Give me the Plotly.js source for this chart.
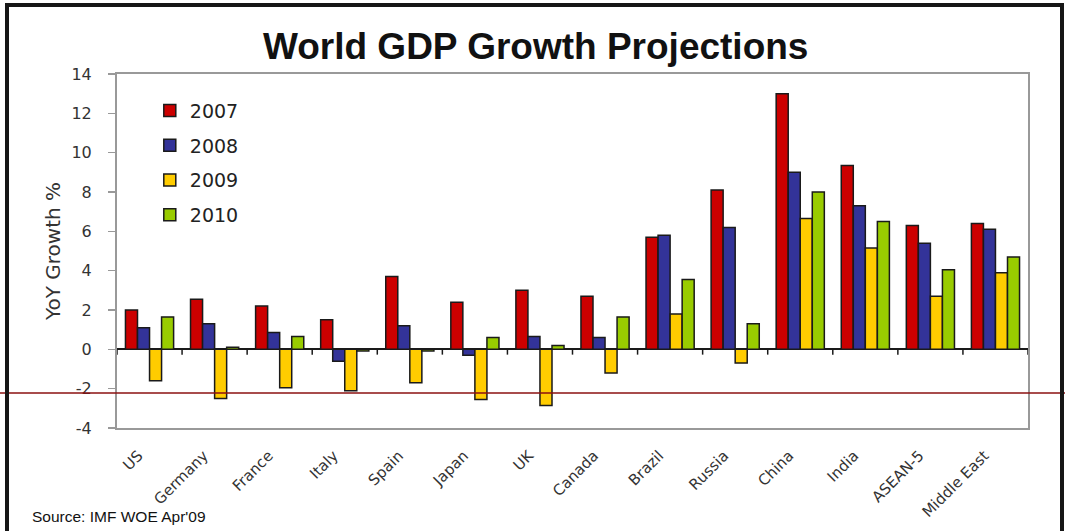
<!DOCTYPE html>
<html>
<head>
<meta charset="utf-8">
<script src="https://cdn.plot.ly/plotly-3.0.1.min.js"></script>
<style>
  html, body { margin: 0; padding: 0; background: #fff; }
  #wrap { position: relative; width: 1065px; height: 531px; overflow: hidden; }
  #chart { width: 1065px; height: 531px; }
  #frame { position: absolute; left: 5px; top: 3px; width: 1051px; height: 600px;
           border: 4px solid #161616; pointer-events: none; }
</style>
</head>
<body>
<div id="wrap">
  <div id="chart"></div>
  <div id="frame"></div>
</div>
<script>
const categories = ['US','Germany','France','Italy','Spain','Japan','UK','Canada','Brazil','Russia','China','India','ASEAN-5','Middle East'];
const years = ['2007','2008','2009','2010'];
const g2007 = [2.0, 2.55, 2.2, 1.5, 3.7, 2.4, 3.0, 2.7, 5.7, 8.1, 13.0, 9.35, 6.3, 6.4];
const g2008 = [1.1, 1.3, 0.85, -0.6, 1.2, -0.3, 0.65, 0.6, 5.8, 6.2, 9.0, 7.3, 5.4, 6.1];
const g2009 = [-1.6, -2.5, -1.95, -2.1, -1.7, -2.55, -2.85, -1.2, 1.8, -0.7, 6.65, 5.15, 2.7, 3.9];
const g2010 = [1.65, 0.1, 0.65, -0.08, -0.08, 0.6, 0.2, 1.65, 3.55, 1.3, 8.0, 6.5, 4.05, 4.7];
const yTickVals = [-4, -2, 0, 2, 4, 6, 8, 10, 12, 14];
const yTickText = ['-4', '-2', '0', '2', '4', '6', '8', '10', '12', '14'];
const colors = ['#CC0000', '#333399', '#FFCC00', '#99CC00'];
const series = [g2007, g2008, g2009, g2010];

const traces = series.map((vals, i) => ({
  type: 'bar',
  name: years[i],
  x: categories,
  y: vals,
  legendgroup: 'g' + i,
  marker: { color: colors[i], line: { color: '#1a1a1a', width: 1.5 } },
  hoverinfo: 'x+y+name'
}));

// small tick marks along the zero line at category boundaries
const shapes = [];
for (let k = 0; k <= categories.length; k++) {
  shapes.push({ type: 'line', xref: 'x', yref: 'y', x0: k - 0.5, x1: k - 0.5, y0: 0, y1: -0.27,
                line: { color: '#1a1a1a', width: 1.5 } });
}
// thin dark-red horizontal line across the whole picture
shapes.push({ type: 'line', xref: 'paper', yref: 'paper', x0: -0.2, x1: 1.1, y0: 0.0989, y1: 0.0989,
              line: { color: '#8B1010', width: 1.3 }, layer: 'above' });

const layout = {
  width: 1065, height: 531,
  margin: { l: 117, r: 37, t: 74, b: 103 },
  paper_bgcolor: '#ffffff', plot_bgcolor: '#ffffff',
  title: { text: '<b>World GDP Growth Projections</b>', x: 0.503, xanchor: 'center', y: 0.914, yanchor: 'middle',
           font: { family: 'Liberation Sans, Arial, sans-serif', size: 37, color: '#111' } },
  barmode: 'group', bargap: 0.26, bargroupgap: 0,
  showlegend: true,
  legend: { x: 0.036, y: 0.95, xanchor: 'left', yanchor: 'top', bgcolor: 'rgba(0,0,0,0)',
            font: { family: 'DejaVu Sans, sans-serif', size: 19, color: '#222' }, tracegroupgap: 7 },
  xaxis: { type: 'category', range: [-0.5, categories.length - 0.5], showline: true, mirror: true,
           linecolor: '#999', linewidth: 2, ticks: '', tickangle: -45, showgrid: false, zeroline: false,
           tickfont: { family: 'DejaVu Sans, sans-serif', size: 15, color: '#333' },
           ticklabelstandoff: 11, ticklabelshift: -11 },
  yaxis: { range: [-4, 14], tickmode: 'array', tickvals: yTickVals, ticktext: yTickText,
           showgrid: false, zeroline: true, zerolinecolor: '#1a1a1a',
           zerolinewidth: 2, showline: true, mirror: true, linecolor: '#999', linewidth: 2,
           ticks: 'outside', ticklen: 7, tickcolor: '#999', tickwidth: 1.5, ticklabelstandoff: 13,
           tickfont: { family: 'DejaVu Sans, sans-serif', size: 16, color: '#333' },
           title: { text: 'YoY Growth %', standoff: 5, font: { family: 'DejaVu Sans, sans-serif', size: 20, color: '#333' } } },
  shapes: shapes,
  annotations: [{ text: "Source: IMF WOE Apr'09", xref: 'paper', yref: 'paper', x: -0.0955, y: -0.2486,
                  xanchor: 'left', yanchor: 'middle', showarrow: false,
                  font: { family: 'Liberation Sans, Arial, sans-serif', size: 15.5, color: '#111' } }]
};

Plotly.newPlot('chart', traces, layout, { displayModeBar: false, staticPlot: true });
</script>
</body>
</html>
